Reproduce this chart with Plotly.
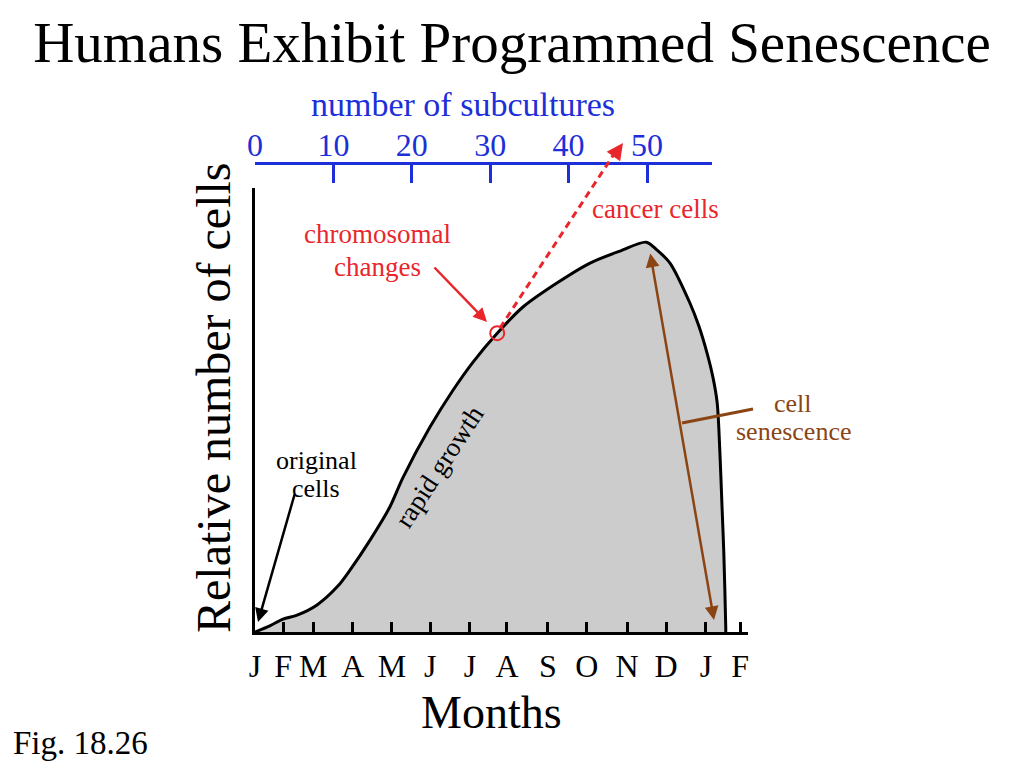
import plotly.graph_objects as go

# ---- data ----
month_ticks = [0, 0.72, 1.49, 2.51, 3.51, 4.49, 5.51, 6.46, 7.51, 8.51, 9.54, 10.54, 11.56, 12.44]
month_labels = ["J", "F", "M", "A", "M", "J", "J", "A", "S", "O", "N", "D", "J", "F"]
subculture_ticks = [0, 10, 20, 30, 40, 50]

curve_months = [0, 0.38, 0.72, 1.08, 1.59, 2.13, 2.44, 2.95, 3.46, 3.79, 4.49, 5.08, 5.59,
                6.21, 6.87, 7.74, 8.59, 9.36, 10.03, 10.31, 10.64, 11.15, 11.38, 11.59, 11.74,
                11.85, 11.92, 11.97, 12.02, 12.07, 12.07]
curve_cells = [0, 1.4, 2.9, 3.8, 6.1, 10.4, 14.0, 20.7, 28.2, 34.7, 46.2, 54.5, 60.8,
               67.3, 73.2, 78.6, 83.1, 85.8, 87.8, 86.0, 83.1, 74.1, 68.9, 62.8, 57.4,
               51.6, 40.3, 29.1, 17.8, 0.9, 0]

event_month = [6.21]
event_cells = [67.3]

FONT = "Liberation Serif"
BLUE = "#1c2fd8"
RED = "#e8262b"
BROWN = "#8B4513"

# the page body adds an 8px offset; the figure is sized to compensate
OFF = 8
W, H = 1024 - OFF, 768 - OFF

fig = go.Figure()

fig.add_trace(go.Scatter(
    x=curve_months, y=curve_cells, mode="lines",
    line=dict(color="black", width=3, shape="spline", smoothing=0.8),
    fill="tozeroy", fillcolor="#cccccc",
    hoverinfo="skip", showlegend=False))

fig.add_trace(go.Scatter(
    x=event_month, y=event_cells, mode="markers",
    marker=dict(symbol="circle-open", size=14, color=RED, line=dict(width=2, color=RED)),
    hoverinfo="skip", showlegend=False))

# hidden trace to realise the top (subcultures) axis
fig.add_trace(go.Scatter(
    x=subculture_ticks, y=[0] * len(subculture_ticks), xaxis="x2", yaxis="y",
    mode="markers", marker=dict(opacity=0), hoverinfo="skip", showlegend=False))

def px(xp):
    return (xp - 255) / 493

def py(yp):
    return (632 - yp) / 469

shapes = [
    dict(type="line", xref="paper", yref="paper",
         x0=px(500), y0=py(328), x1=px(618), y1=py(148),
         line=dict(color=RED, width=3, dash="7px,5px")),
    dict(type="line", xref="paper", yref="paper",
         x0=px(682), y0=py(423), x1=px(753), y1=py(409),
         line=dict(color=BROWN, width=3)),
]

annotations = []

def txt(s, x, y, size=27, color="black", angle=0):
    annotations.append(dict(text=s, xref="paper", yref="paper", x=px(x), y=py(y),
                            xanchor="center", yanchor="middle", showarrow=False,
                            textangle=angle, font=dict(family=FONT, size=size, color=color)))

def arrow(hx, hy, tx, ty, color, width=2.5, side="end"):
    annotations.append(dict(text="", xref="paper", yref="paper", x=px(hx), y=py(hy),
                            ax=tx - hx, ay=ty - hy, axref="pixel", ayref="pixel",
                            showarrow=True, arrowhead=2, arrowsize=1.1, arrowwidth=width,
                            arrowcolor=color, arrowside=side))

txt("number of subcultures", 463, 104, size=34, color=BLUE)
txt("Relative number of cells", 213, 398, size=48, angle=-90)
txt("Months", 491, 712, size=46)
txt("Fig. 18.26", 80, 743, size=33)
txt("original", 316, 460, size=26)
txt("cells", 316, 488, size=26)
txt("chromosomal", 377, 234, color=RED)
txt("changes", 377, 267, color=RED)
txt("cancer cells", 655, 209, color=RED)
txt("cell", 793, 403, size=26, color=BROWN)
txt("senescence", 793, 431, size=26, color=BROWN)
txt("rapid growth", 439, 467, angle=-57)

arrow(258, 622, 295, 493, "black")
arrow(487, 322, 433, 266, RED)
arrow(623, 143, 613, 157, RED, width=3)
arrow(714, 620, 650, 252, BROWN, side="end+start")

fig.update_layout(
    width=W, height=H,
    margin=dict(l=255 - OFF, r=W - (748 - OFF), t=163 - OFF, b=H - (632 - OFF)),
    paper_bgcolor="white", plot_bgcolor="rgba(0,0,0,0)",
    title=dict(text="Humans Exhibit Programmed Senescence", x=(512 - OFF) / W, xref="container",
               y=1 - (42 - OFF) / H, yref="container", xanchor="center", yanchor="middle",
               font=dict(family=FONT, size=57, color="black")),
    xaxis=dict(range=[0, 12.64], tickvals=month_ticks, ticktext=month_labels,
               ticks="inside", ticklen=10, tickwidth=2.5, tickcolor="black",
               showline=True, linewidth=3, linecolor="black",
               showgrid=False, zeroline=False, ticklabelstandoff=4,
               tickfont=dict(family=FONT, size=32, color="black")),
    xaxis2=dict(range=[0, 58.29], domain=[0, 0.927], anchor="free", position=1,
                side="top", tickvals=subculture_ticks,
                ticks="inside", ticklen=18, tickwidth=3, tickcolor=BLUE,
                showline=True, linewidth=3, linecolor=BLUE,
                showgrid=False, zeroline=False, ticklabelstandoff=-7,
                tickfont=dict(family=FONT, size=32, color=BLUE)),
    yaxis=dict(range=[0, 100], domain=[0, 0.9467], showline=True, linewidth=3,
               linecolor="black", ticks="", showticklabels=False,
               showgrid=False, zeroline=False),
    shapes=shapes, annotations=annotations, showlegend=False,
)

fig.write_html("out.html")
